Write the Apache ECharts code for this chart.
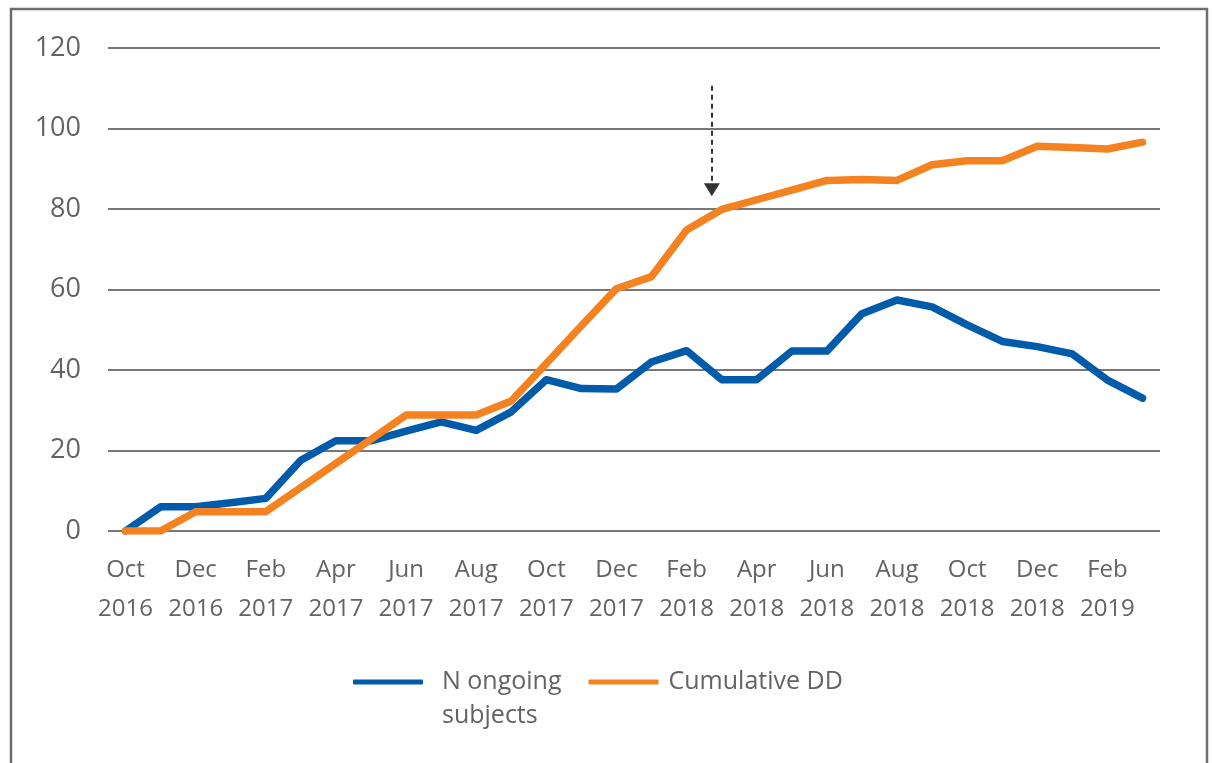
<!DOCTYPE html>
<html>
<head>
<meta charset="utf-8">
<script src="https://cdn.jsdelivr.net/npm/echarts@6/dist/echarts.min.js"></script>
<style>
html,body{margin:0;padding:0;background:#fff;}
#chart{width:1212px;height:763px;}
</style>
</head>
<body>
<div id="chart"></div>
<script>
const months = ["Oct\n2016","Nov\n2016","Dec\n2016","Jan\n2017","Feb\n2017","Mar\n2017","Apr\n2017","May\n2017","Jun\n2017","Jul\n2017","Aug\n2017","Sep\n2017","Oct\n2017","Nov\n2017","Dec\n2017","Jan\n2018","Feb\n2018","Mar\n2018","Apr\n2018","May\n2018","Jun\n2018","Jul\n2018","Aug\n2018","Sep\n2018","Oct\n2018","Nov\n2018","Dec\n2018","Jan\n2019","Feb\n2019","Mar\n2019"];
const nOngoing = [0,6,6,7,8.1,17.6,22.4,22.4,24.8,27.1,25,29.6,37.6,35.4,35.3,42,44.8,37.6,37.6,44.7,44.7,54,57.4,55.7,51.2,47.1,45.8,44,37.5,33];
const cumulativeDD = [0,0,4.8,4.8,4.8,10.8,16.8,22.8,28.8,28.8,28.8,32.3,41.6,51,60.2,63.2,74.8,79.9,82.3,84.7,87.1,87.3,87.1,91,92,92,95.6,95.3,94.9,96.6];
const seriesNames = ["N ongoing\nsubjects","Cumulative DD"];
const yMin = 0, yMax = 120, yStep = 20;
// annotation arrow (month index position, start value, end value)
const arrowX = 16.72;
const arrowStart = 110.6;
const arrowEnd = 84.8;

const textColor = '#636363';
const font = '"Open Sans", sans-serif';
const chart = echarts.init(document.getElementById('chart'), null, {renderer:'canvas'});
chart.setOption({
  animation:false,
  backgroundColor:'#fff',
  graphic:[{type:'rect', shape:{x:11,y:9,width:1196,height:800}, style:{fill:'none', stroke:'#6e6e6e', lineWidth:2.5}, silent:true, z:-1}],
  grid:{left:108,right:52,top:48,bottom:232},
  legend:{
    left:353, top:631, padding:0, itemGap:27, itemWidth:70, itemHeight:5,
    icon:'roundRect',
    textStyle:{fontFamily:font,fontSize:25,color:textColor,lineHeight:34},
    formatter: function(name){ return name.indexOf('\n') >= 0 ? ' \n' + name : name; },
    data:[
      {name:seriesNames[0], textStyle:{padding:[0,0,0,14]}},
      {name:seriesNames[1], textStyle:{padding:[0,0,0,5]}}
    ]
  },
  xAxis:[{
    type:'category', data:months, boundaryGap:true,
    axisLine:{show:false}, axisTick:{show:false},
    axisLabel:{interval:1, margin:20, fontFamily:font, fontSize:24, color:textColor, lineHeight:39}
  },{
    type:'value', min:-0.5, max:29.5, show:false
  }],
  yAxis:{
    type:'value', min:yMin, max:yMax, interval:yStep,
    axisLine:{show:false}, axisTick:{show:false},
    axisLabel:{margin:27, fontFamily:font, fontSize:27, color:textColor},
    splitLine:{lineStyle:{color:'#777', width:2}}
  },
  series:[
    {name:seriesNames[0], type:'line', data:nOngoing, showSymbol:false, symbol:'none',
     color:'#005BAA',
     lineStyle:{color:'#005BAA', width:7.5, cap:'round', join:'round'}},
    {name:seriesNames[1], type:'line', data:cumulativeDD, showSymbol:false, symbol:'none',
     color:'#F58220',
     lineStyle:{color:'#F58220', width:7.5, cap:'round', join:'round'}},
    {name:'arrow', type:'scatter', xAxisIndex:1, symbolSize:0, silent:true,
     data:[[arrowX, arrowEnd]],
     markLine:{silent:true, symbol:['none','triangle'], symbolSize:[16,13], label:{show:false},
       lineStyle:{type:[5,4], color:'#333', width:2},
       itemStyle:{color:'#231F20'},
       emphasis:{disabled:true},
       data:[[{coord:[arrowX, arrowStart]},{coord:[arrowX, arrowEnd]}]]}}
  ]
});
</script>
</body>
</html>
